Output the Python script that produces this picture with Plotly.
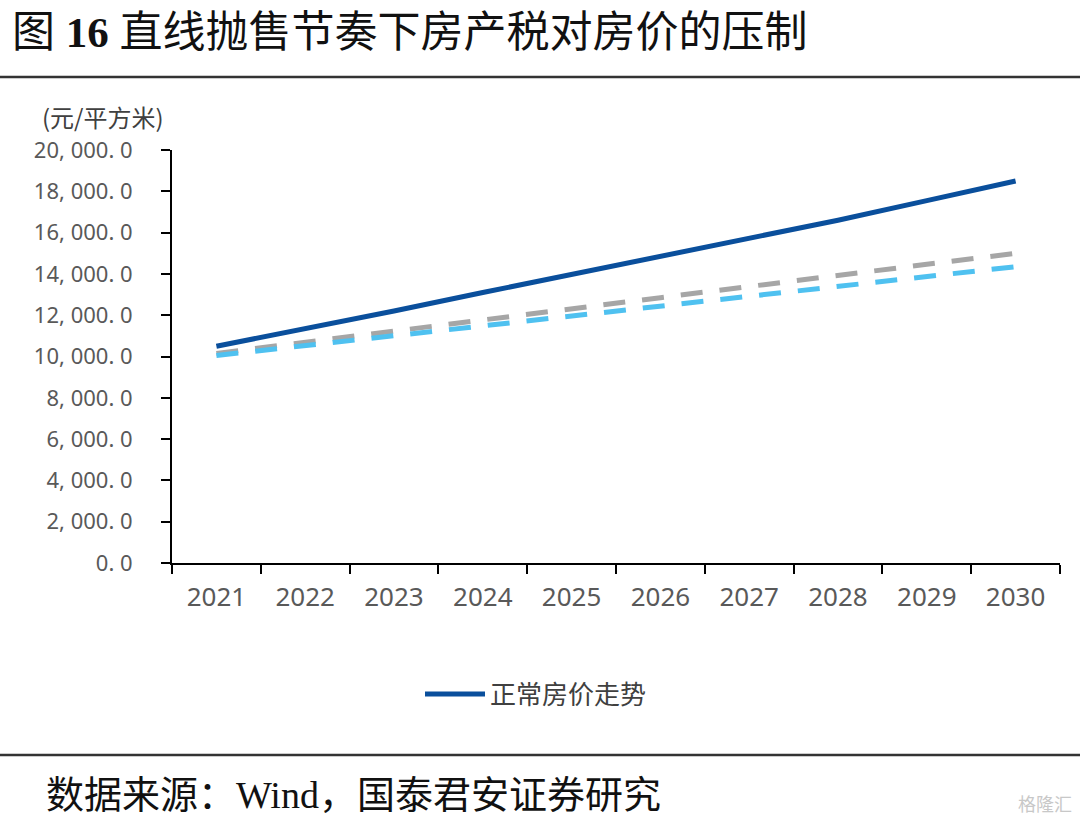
import plotly.graph_objects as go

# data
years = ["2021", "2022", "2023", "2024", "2025", "2026", "2027", "2028", "2029", "2030"]
normal_price = [10500, 11330, 12200, 13100, 13980, 14850, 15720, 16600, 17550, 18500]
tax_grey = [10150, 10680, 11220, 11760, 12300, 12850, 13390, 13930, 14470, 15000]
tax_blue = [10050, 10530, 11010, 11490, 11960, 12430, 12910, 13390, 13870, 14350]
y_ticks = [0, 2000, 4000, 6000, 8000, 10000, 12000, 14000, 16000, 18000, 20000]

# plot box in page pixels
L, R, T, B = 172, 1060, 150, 563
W, H = R - L, B - T


def px(x):
    return (x - L) / W


def py(y):
    return (B - y) / H


cjk = "Noto Sans CJK SC"
dash = "22px,17px"

fig = go.Figure()

fig.add_trace(go.Scatter(
    x=years, y=normal_price, name="正常房价走势", mode="lines",
    line=dict(color="#0A4F9C", width=5),
))
fig.add_trace(go.Scatter(
    x=years, y=tax_grey, name="房产税情景一", mode="lines", showlegend=False,
    line=dict(color="#A6A6A6", width=5, dash=dash),
))
fig.add_trace(go.Scatter(
    x=years, y=tax_blue, name="房产税情景二", mode="lines", showlegend=False,
    line=dict(color="#4FC1F0", width=5, dash=dash),
))

tick_text = [f"{v:,.1f}".replace(",", ", ").replace(".", ". ") for v in y_ticks]

fig.update_layout(
    width=1080, height=825,
    margin=dict(l=L, r=1080 - R, t=T, b=825 - B),
    paper_bgcolor="white", plot_bgcolor="white",
    font=dict(family=cjk, color="#404040"),
    xaxis=dict(
        type="category", tickson="boundaries", ticks="outside",
        ticklen=9, tickwidth=2, tickcolor="black",
        showline=True, linecolor="black", linewidth=2,
        showgrid=False, range=[-0.5, 9.5], ticklabelstandoff=10,
        tickfont=dict(family="Noto Sans", size=26, color="#595959"),
    ),
    yaxis=dict(
        range=[0, 20000], tickvals=y_ticks, ticktext=tick_text,
        ticks="outside", ticklen=9, tickwidth=2, tickcolor="black",
        showline=True, linecolor="black", linewidth=2,
        showgrid=False, zeroline=False, ticklabelstandoff=24,
        tickfont=dict(family="Noto Sans", size=22, color="#595959"),
    ),
    legend=dict(
        orientation="h", x=px(536), y=py(694), xanchor="center", yanchor="middle",
        font=dict(family=cjk, size=26, color="#404040"),
        itemwidth=60,
    ),
    shapes=[
        dict(type="line", xref="paper", yref="paper", x0=px(0), x1=px(1080),
             y0=py(77), y1=py(77), line=dict(color="#333333", width=2.5)),
        dict(type="line", xref="paper", yref="paper", x0=px(0), x1=px(1080),
             y0=py(755), y1=py(755), line=dict(color="#333333", width=2.5)),
    ],
    annotations=[
        dict(text="图 <b>16</b> 直线抛售节奏下房产税对房价的压制",
             xref="paper", yref="paper", x=px(10), y=py(33),
             xanchor="left", yanchor="middle", showarrow=False,
             font=dict(family="Liberation Serif, " + cjk, size=43, color="#111111")),
        dict(text="(元/平方米)", xref="paper", yref="paper", x=px(40), y=py(116),
             xanchor="left", yanchor="middle", showarrow=False,
             font=dict(family=cjk, size=24, color="#404040")),
        dict(text="数据来源：Wind，国泰君安证券研究", xref="paper", yref="paper",
             x=px(44), y=py(795), xanchor="left", yanchor="middle", showarrow=False,
             font=dict(family="Liberation Serif, " + cjk, size=38, color="#111111")),
        dict(text="格隆汇", xref="paper", yref="paper", x=px(1074), y=py(803),
             xanchor="right", yanchor="middle", showarrow=False,
             font=dict(family=cjk, size=18, color="#C8C8C8")),
    ],
)

fig.write_html("out.html", config={"displayModeBar": False},
               post_script="document.body.style.margin='0px';")
